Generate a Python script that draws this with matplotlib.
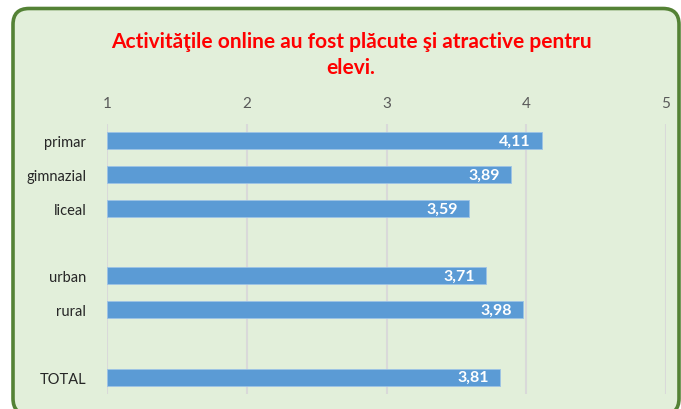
import matplotlib.pyplot as plt
from matplotlib.patches import FancyBboxPatch

categories = ["primar", "gimnazial", "liceal", "", "urban", "rural", "", "TOTAL"]
values = [4.11, 3.89, 3.59, None, 3.71, 3.98, None, 3.81]
x_ticks = [1, 2, 3, 4, 5]
title = "Activităţile online au fost plăcute şi atractive pentru\nelevi."

plt.rcParams['font.family'] = ['Lato', 'DejaVu Sans']

fig = plt.figure(figsize=(6.81, 4.10), dpi=100)
fig.patch.set_facecolor("white")

# background panel with rounded green border (pixel coordinates)
bg = fig.add_axes([0, 0, 1, 1])
bg.set_xlim(0, 681)
bg.set_ylim(410, 0)
bg.axis("off")
box = FancyBboxPatch((13, 9.5), 666, 406, boxstyle="round,pad=0,rounding_size=16",
                     facecolor="#E2EFDA", edgecolor="#548235", linewidth=2.6)
bg.add_patch(box)

bg.text(351, 55, title, ha="center", va="center", color="#FF0000",
        fontsize=15, fontweight="bold", linespacing=1.4)

ax = fig.add_axes([107 / 681, 1 - 395 / 410, (666 - 107) / 681, (395 - 125) / 410])
ax.patch.set_alpha(0)

ypos = list(range(len(categories)))
for y, v in zip(ypos, values):
    if v is None:
        continue
    ax.barh(y, v - 1, left=1, height=0.5, color="#5B9BD5", edgecolor="#9DC3E6",
            linewidth=0.6, zorder=3)
    ax.text(v - 0.08, y, f"{v:.2f}".replace(".", ","), ha="right", va="center",
            color="white", fontsize=11.5, fontweight="bold", zorder=4)

ax.set_xlim(1, 5)
ax.set_ylim(len(categories) - 0.5, -0.5)
ax.set_xticks(x_ticks)
ax.set_xticklabels([str(t) for t in x_ticks])
ax.xaxis.tick_top()
ax.tick_params(axis="x", length=0, pad=10, labelsize=11, labelcolor="#595959")
ax.set_yticks(ypos)
ax.set_yticklabels(categories)
ax.tick_params(axis="y", length=0, pad=15, labelsize=10.5, labelcolor="#262626")
ax.grid(axis="x", color="#D9D9D9", linewidth=1.5, zorder=0)
for s in ax.spines.values():
    s.set_visible(False)

fig.savefig("out.png", dpi=100)
